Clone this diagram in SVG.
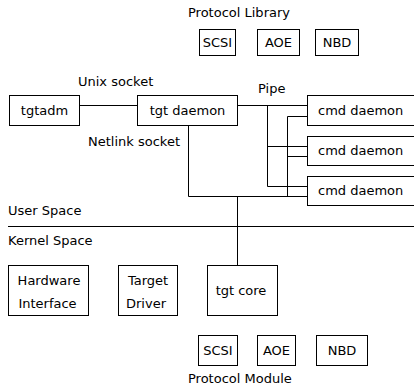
<svg xmlns="http://www.w3.org/2000/svg" width="414" height="389" viewBox="0 0 414 389">
<style>
  rect { fill: #fff; stroke: #000; stroke-width: 1; }
  .c line, .c polyline { stroke: #000; stroke-width: 1; fill: none; }
  text { font-family: "DejaVu Sans", "Liberation Sans", sans-serif; font-size: 13px; fill: #000; }
  .m { text-anchor: middle; }
</style>
<rect x="0" y="0" width="414" height="389" style="stroke:none"/>
<g class="c" id="connectors">
  <line x1="79.5" y1="105.5" x2="137.5" y2="105.5"/>
  <line x1="237.5" y1="105.5" x2="307.5" y2="105.5"/>
  <line x1="267.5" y1="105.5" x2="267.5" y2="186.5"/>
  <line x1="267.5" y1="146.5" x2="307.5" y2="146.5"/>
  <line x1="267.5" y1="186.5" x2="307.5" y2="186.5"/>
  <line x1="287.5" y1="116.5" x2="287.5" y2="196.5"/>
  <line x1="287.5" y1="116.5" x2="307.5" y2="116.5"/>
  <line x1="287.5" y1="156.5" x2="307.5" y2="156.5"/>
  <polyline points="188.5,125.5 188.5,196.5 307.5,196.5"/>
  <line x1="237.5" y1="196.5" x2="237.5" y2="265.5"/>
  <line x1="8" y1="226.5" x2="414" y2="226.5"/>
</g>
<g id="labels">
  <text x="188" y="17">Protocol Library</text>
  <text x="78" y="86">Unix socket</text>
  <text x="258" y="93">Pipe</text>
  <text x="88" y="146">Netlink socket</text>
  <text x="8" y="215">User Space</text>
  <text x="8" y="245">Kernel Space</text>
  <text x="188" y="383">Protocol Module</text>
</g>
<g id="lib-scsi"><rect x="199.5" y="29.5" width="36" height="26"/><text class="m" x="217.5" y="47">SCSI</text></g>
<g id="lib-aoe"><rect x="257.5" y="29.5" width="42" height="26"/><text class="m" x="278.5" y="47">AOE</text></g>
<g id="lib-nbd"><rect x="315.5" y="29.5" width="43" height="26"/><text class="m" x="337" y="47">NBD</text></g>
<g id="tgtadm"><rect x="9.5" y="95.5" width="70" height="30"/><text class="m" x="44.5" y="115">tgtadm</text></g>
<g id="tgt-daemon"><rect x="137.5" y="95.5" width="100" height="30"/><text class="m" x="187.5" y="115">tgt daemon</text></g>
<g id="cmd-daemon-1"><rect x="307.5" y="95.5" width="120" height="30"/><text x="318" y="115">cmd daemon</text></g>
<g id="cmd-daemon-2"><rect x="307.5" y="136.5" width="120" height="29"/><text x="318" y="155">cmd daemon</text></g>
<g id="cmd-daemon-3"><rect x="307.5" y="176.5" width="120" height="29"/><text x="318" y="195">cmd daemon</text></g>
<g id="hardware-interface"><rect x="8.5" y="265.5" width="80" height="50"/><text class="m" x="49" y="285">Hardware</text><text class="m" x="47.5" y="308">Interface</text></g>
<g id="target-driver"><rect x="118.5" y="265.5" width="59" height="50"/><text class="m" x="148" y="285">Target</text><text class="m" x="146" y="308">Driver</text></g>
<g id="tgt-core"><rect x="207.5" y="265.5" width="70" height="50"/><text class="m" x="241" y="295">tgt core</text></g>
<g id="mod-scsi"><rect x="198.5" y="335.5" width="39" height="30"/><text class="m" x="218" y="355">SCSI</text></g>
<g id="mod-aoe"><rect x="257.5" y="335.5" width="38" height="30"/><text class="m" x="276.5" y="355">AOE</text></g>
<g id="mod-nbd"><rect x="316.5" y="335.5" width="51" height="30"/><text class="m" x="342" y="355">NBD</text></g>
</svg>
